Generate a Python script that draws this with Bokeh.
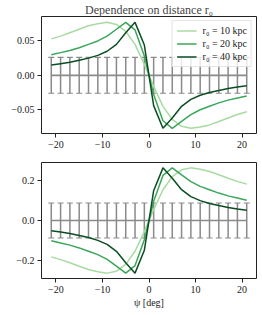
from bokeh.plotting import figure
from bokeh.models import (Range1d, FixedTicker, Legend, LegendItem, Whisker,
                          TeeHead, ColumnDataSource)
from bokeh.layouts import column
from bokeh.embed import file_html
from bokeh.resources import INLINE

# ---- data ----
psi = [-21, -19, -17, -15, -13, -11, -9, -7, -5, -3, -1,
       1, 3, 5, 7, 9, 11, 13, 15, 17, 19, 21]

top_r10 = [0.053, 0.057, 0.062, 0.067, 0.072, 0.075, 0.077, 0.074, 0.064, 0.045, 0.016,
           -0.016, -0.045, -0.064, -0.074, -0.077, -0.075, -0.072, -0.067, -0.062, -0.057, -0.053]
top_r20 = [0.030, 0.033, 0.036, 0.040, 0.045, 0.050, 0.057, 0.067, 0.077, 0.066, 0.028,
           -0.028, -0.066, -0.077, -0.067, -0.057, -0.050, -0.045, -0.040, -0.036, -0.033, -0.030]
top_r40 = [0.015, 0.017, 0.019, 0.022, 0.025, 0.029, 0.035, 0.045, 0.062, 0.077, 0.044,
           -0.044, -0.077, -0.062, -0.045, -0.035, -0.029, -0.025, -0.022, -0.019, -0.017, -0.015]

bot_r10 = [-0.183, -0.197, -0.213, -0.230, -0.247, -0.258, -0.265, -0.255, -0.221, -0.155, -0.055,
           0.055, 0.155, 0.221, 0.255, 0.265, 0.258, 0.247, 0.230, 0.213, 0.197, 0.183]
bot_r20 = [-0.102, -0.113, -0.124, -0.138, -0.155, -0.172, -0.196, -0.230, -0.265, -0.227, -0.097,
           0.097, 0.227, 0.265, 0.230, 0.196, 0.172, 0.155, 0.138, 0.124, 0.113, 0.102]
bot_r40 = [-0.052, -0.058, -0.065, -0.075, -0.086, -0.100, -0.120, -0.155, -0.213, -0.265, -0.150,
           0.150, 0.265, 0.213, 0.155, 0.120, 0.100, 0.086, 0.075, 0.065, 0.058, 0.052]

obs_top = [0.0] * 22
err_top = [0.026] * 22
obs_bot = [0.0] * 22
err_bot = [0.088] * 22

labels = ["r\u2080 = 10 kpc", "r\u2080 = 20 kpc", "r\u2080 = 40 kpc"]
colors = ["#a8dba1", "#3ba65a", "#0b4d22"]

x_ticks = [-20, -10, 0, 10, 20]
x_tick_labels = ["\u221220", "\u221210", "0", "10", "20"]
top_ticks = [-0.05, 0.0, 0.05]
top_tick_labels = ["\u22120.05", "0.00", "0.05"]
bot_ticks = [-0.2, 0.0, 0.2]
bot_tick_labels = ["\u22120.2", "0.0", "0.2"]

FONT = "Liberation Serif"
GRAY = "#8a8a8a"


def style(p, yt, ytl):
    p.xgrid.visible = False
    p.ygrid.visible = False
    p.outline_line_color = "#222222"
    p.outline_line_width = 1
    for ax in (p.xaxis, p.yaxis):
        ax.axis_line_color = None
        ax.major_tick_line_color = "#222222"
        ax.major_tick_out = 4
        ax.major_tick_in = 0
        ax.minor_tick_line_color = None
        ax.major_label_text_font = FONT
        ax.major_label_text_font_size = "10px"
        ax.major_label_text_color = "#222222"
        ax.major_label_standoff = 3
    p.xaxis.ticker = FixedTicker(ticks=x_ticks)
    p.xaxis.major_label_overrides = {t: l for t, l in zip(x_ticks, x_tick_labels)}
    p.yaxis.ticker = FixedTicker(ticks=yt)
    p.yaxis.major_label_overrides = {t: l for t, l in zip(yt, ytl)}


def errbars(p, obs, err):
    lower = [o - e for o, e in zip(obs, err)]
    upper = [o + e for o, e in zip(obs, err)]
    src = ColumnDataSource(dict(x=psi, lower=lower, upper=upper))
    w = Whisker(base="x", lower="lower", upper="upper", source=src,
                line_color=GRAY, line_width=1.5,
                upper_head=TeeHead(size=6, line_color=GRAY, line_width=1.2),
                lower_head=TeeHead(size=6, line_color=GRAY, line_width=1.2))
    p.add_layout(w)
    p.line(psi, obs, line_color=GRAY, line_width=1.6)


# ---- top panel ----
p1 = figure(width=262, height=150, output_backend="svg", toolbar_location=None,
            x_range=Range1d(-23.1, 23.1), y_range=Range1d(-0.0845, 0.0855),
            min_border_left=41, min_border_right=6, min_border_top=0,
            min_border_bottom=16)
p1.title.text = "Dependence on distance r\u2080"
p1.title.text_font = FONT
p1.title.text_font_size = "12px"
p1.title.text_font_style = "normal"
p1.title.align = "center"
p1.title.standoff = 0
style(p1, top_ticks, top_tick_labels)
errbars(p1, obs_top, err_top)
rs = []
for ys, c in zip([top_r10, top_r20, top_r40], colors):
    rs.append(p1.line(psi, ys, line_color=c, line_width=1.5))
leg = Legend(items=[LegendItem(label=l, renderers=[r]) for l, r in zip(labels, rs)],
             location="top_right")
leg.margin = 4
leg.padding = 4
leg.spacing = 2
leg.glyph_width = 20
leg.glyph_height = 11
leg.label_height = 11
leg.label_standoff = 6
leg.label_text_font = FONT
leg.label_text_font_size = "10px"
leg.label_text_color = "#222222"
leg.background_fill_color = "white"
leg.background_fill_alpha = 0.8
leg.border_line_color = "#cccccc"
leg.border_line_width = 1
p1.add_layout(leg)

# ---- bottom panel ----
p2 = figure(width=262, height=165, output_backend="svg", toolbar_location=None,
            x_range=p1.x_range, y_range=Range1d(-0.292, 0.292),
            min_border_left=41, min_border_right=6, min_border_top=12,
            min_border_bottom=37)
style(p2, bot_ticks, bot_tick_labels)
p2.xaxis.axis_label = "\u03c8 [deg]"
p2.xaxis.axis_label_text_font = FONT
p2.xaxis.axis_label_text_font_size = "10px"
p2.xaxis.axis_label_text_font_style = "normal"
p2.xaxis.axis_label_text_color = "#222222"
p2.xaxis.axis_label_standoff = 1
errbars(p2, obs_bot, err_bot)
for ys, c in zip([bot_r10, bot_r20, bot_r40], colors):
    p2.line(psi, ys, line_color=c, line_width=1.5)

layout = column(p1, p2, spacing=0)
open("out.html", "w").write(file_html(layout, INLINE))
